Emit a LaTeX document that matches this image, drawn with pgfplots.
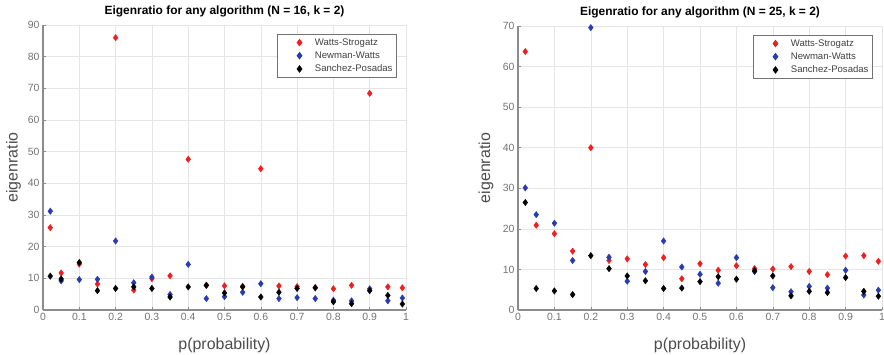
\documentclass[border=0pt]{standalone}
\usepackage{pgfplots}
\pgfplotsset{compat=1.18}
\usepackage{fontspec}
\setmainfont{Liberation Sans}
\definecolor{wsred}{RGB}{240,30,30}
\definecolor{nwblue}{RGB}{40,60,175}
\definecolor{axgray}{RGB}{140,140,140}
\definecolor{tickgray}{RGB}{115,115,115}
\pgfplotsset{
  eig/.style={
    scale only axis,
    xmin=0, xmax=1, ymin=0,
    axis lines*=left,
    axis line style={axgray, line width=1.3bp},
    tick style={axgray, line width=0.6bp},
    tick align=inside,
    major tick length=3bp,
    grid=major,
    grid style={black!10, line width=0.5bp},
    xtick={0,0.1,0.2,0.3,0.4,0.5,0.6,0.7,0.8,0.9,1},
    xticklabels={0,0.1,0.2,0.3,0.4,0.5,0.6,0.7,0.8,0.9,1},
    ticklabel style={font=\fontsize{10.5}{12}\selectfont, text=tickgray},
    /pgf/number format/assume math mode=true,
    xlabel={p(probability)},
    ylabel={eigenratio},
    label style={font=\fontsize{16}{18}\selectfont, text=black!70},
    xlabel style={at={(axis description cs:0.5,-0.123)}, anchor=center},
    title style={at={(axis description cs:0.5,1.028)}, anchor=center, font=\bfseries\fontsize{12}{14}\selectfont},
    legend style={at={(axis description cs:0.975,0.968)}, anchor=north east,
      font=\fontsize{9.6}{10.5}\selectfont, draw=black!55, line width=0.8bp,
      inner sep=2bp, row sep=1bp, text=black!75},
    legend cell align=left,
    legend image code/.code={%
      \path (-20bp,0bp) (13bp,0bp);
      \draw[##1] plot coordinates {(0bp,0bp)};},
    ws/.style={only marks, mark=diamond*, mark size=3.2bp, color=wsred},
    nw/.style={only marks, mark=diamond*, mark size=3.2bp, color=nwblue},
    sp/.style={only marks, mark=diamond*, mark size=3.2bp, color=black},
  }
}
\begin{document}
\begin{tikzpicture}[x=1bp,y=1bp]
\useasboundingbox (0,0) rectangle (884,354);
% ---------------- N = 16 ----------------
\begin{axis}[eig, at={(43bp,44bp)}, width=363bp, height=285bp, ymax=90,
  ytick={0,10,...,90},
  ylabel style={at={(axis description cs:-0.081,0.5)}, anchor=center},
  title={Eigenratio for any algorithm (N = 16, k = 2)}]
\addplot[ws] coordinates {(0.02,26.0) (0.05,11.7) (0.1,14.5) (0.15,8.2) (0.2,86.0) (0.25,6.3) (0.3,9.9) (0.35,10.8) (0.4,47.6) (0.45,7.8) (0.5,7.6) (0.55,7.5) (0.6,44.6) (0.65,7.6) (0.7,7.4) (0.75,7.1) (0.8,6.7) (0.85,7.8) (0.9,68.4) (0.95,7.3) (0.99,7.0)};
\addlegendentry{Watts-Strogatz}
\addplot[nw] coordinates {(0.02,31.2) (0.05,9.2) (0.1,9.6) (0.15,9.7) (0.2,21.8) (0.25,8.6) (0.3,10.4) (0.35,4.9) (0.4,14.4) (0.45,3.6) (0.5,4.2) (0.55,5.6) (0.6,8.3) (0.65,3.6) (0.7,3.9) (0.75,3.6) (0.8,3.1) (0.85,2.9) (0.9,6.7) (0.95,2.9) (0.99,3.8)};
\addlegendentry{Newman-Watts}
\addplot[sp] coordinates {(0.02,10.7) (0.05,9.8) (0.1,15.0) (0.15,6.1) (0.2,6.8) (0.25,7.3) (0.3,6.8) (0.35,4.1) (0.4,7.3) (0.45,7.8) (0.5,5.4) (0.55,7.3) (0.6,4.1) (0.65,5.6) (0.7,6.8) (0.75,7.0) (0.8,2.6) (0.85,2.0) (0.9,6.1) (0.95,4.6) (0.99,1.9)};
\addlegendentry{Sanchez-Posadas}
\end{axis}
% ---------------- N = 25 ----------------
\begin{axis}[eig, at={(518bp,44bp)}, width=364bp, height=284bp, ymax=70,
  ytick={0,10,...,70},
  ylabel style={at={(axis description cs:-0.088,0.5)}, anchor=center},
  title={Eigenratio for any algorithm (N = 25, k = 2)}]
\addplot[ws] coordinates {(0.02,63.7) (0.05,20.9) (0.1,18.8) (0.15,14.5) (0.2,40.0) (0.25,12.2) (0.3,12.6) (0.35,11.2) (0.4,12.9) (0.45,7.7) (0.5,11.4) (0.55,9.8) (0.6,10.9) (0.65,10.2) (0.7,10.1) (0.75,10.7) (0.8,9.5) (0.85,8.7) (0.9,13.3) (0.95,13.4) (0.99,12.0)};
\addlegendentry{Watts-Strogatz}
\addplot[nw] coordinates {(0.02,30.1) (0.05,23.5) (0.1,21.4) (0.15,12.2) (0.2,69.6) (0.25,13.0) (0.3,7.1) (0.35,9.5) (0.4,17.0) (0.45,10.6) (0.5,8.8) (0.55,6.6) (0.6,12.9) (0.65,9.5) (0.7,5.5) (0.75,4.5) (0.8,5.8) (0.85,5.4) (0.9,9.8) (0.95,3.7) (0.99,4.9)};
\addlegendentry{Newman-Watts}
\addplot[sp] coordinates {(0.02,26.5) (0.05,5.3) (0.1,4.7) (0.15,3.8) (0.2,13.4) (0.25,10.2) (0.3,8.4) (0.35,7.2) (0.4,5.3) (0.45,5.4) (0.5,7.0) (0.55,8.2) (0.6,7.6) (0.65,9.7) (0.7,8.4) (0.75,3.5) (0.8,4.6) (0.85,4.3) (0.9,8.0) (0.95,4.6) (0.99,3.4)};
\addlegendentry{Sanchez-Posadas}
\end{axis}
\end{tikzpicture}
\end{document}
